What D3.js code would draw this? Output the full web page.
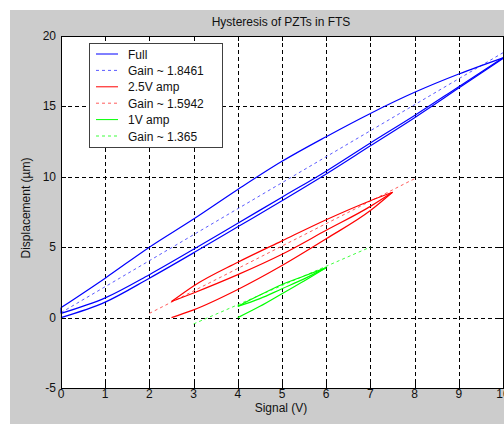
<!DOCTYPE html>
<html>
<head>
<meta charset="utf-8">
<script src="https://cdn.jsdelivr.net/npm/d3@7"></script>
<style>
  html, body { margin: 0; padding: 0; background: #ffffff; }
  svg { display: block; }
  text { font-family: "Liberation Sans", Arial, Helvetica, sans-serif; }
</style>
</head>
<body>
<svg id="chart" width="504" height="424"></svg>
<script>
// ---- data -------------------------------------------------------------
const xTicks = [0, 1, 2, 3, 4, 5, 6, 7, 8, 9, 10];
const yTicks = [-5, 0, 5, 10, 15, 20];

// Full-range drive (0..10 V)
const fullSignal = [0, 1, 2, 3, 4, 5, 6, 7, 8, 9, 10];
const fullRise1  = [0.0, 1.1, 2.8, 4.6, 6.45, 8.3, 10.2, 12.2, 14.2, 16.3, 18.4];
const fullFall   = [0.7, 2.8, 5.0, 7.0, 9.1, 11.1, 12.85, 14.5, 16.0, 17.3, 18.45];
const fullRise2  = [0.3, 1.4, 3.05, 4.85, 6.7, 8.55, 10.4, 12.4, 14.35, 16.4, 18.45];

// 2.5 V amplitude drive (2.5..7.5 V)
const midSignal  = [2.5, 3, 4, 5, 6, 7, 7.5];
const midRise1   = [0.0, 0.55, 2.0, 3.7, 5.6, 7.6, 8.9];
const midFall    = [1.14, 2.25, 3.93, 5.45, 6.95, 8.3, 8.9];
const midRise2   = [1.14, 1.75, 3.05, 4.5, 6.2, 7.9, 8.9];

// 1 V amplitude drive (4..6 V)
const lowSignal  = [4, 4.5, 5, 5.5, 6];
const lowRise1   = [0.0, 0.8, 1.7, 2.6, 3.55];
const lowFall    = [0.8, 1.6, 2.35, 2.95, 3.55];
const lowRise2   = [0.8, 1.35, 2.05, 2.75, 3.55];

// Linear fits: displacement = gain * signal + offset
const gains      = [1.8461, 1.5942, 1.365];
const fitOffsets = [0.35, -2.888, -4.545];
const fitStart   = [0, 2, 3];
const fitEnd     = [10, 8, 7];

const legendLabels = ["Full", "Gain ~ 1.8461", "2.5V amp", "Gain ~ 1.5942", "1V amp", "Gain ~ 1.365"];

// ---- layout -----------------------------------------------------------
const svg = d3.select("#chart");
const W = 504, H = 424;
const axLeft = 61, axRight = 503, axTop = 36, axBottom = 388;

const x = d3.scaleLinear().domain([0, 10]).range([axLeft, axRight]);
const y = d3.scaleLinear().domain([-5, 20]).range([axBottom, axTop]);

const solidColors = ["#0000ff", "#ff0000", "#00ff00"];
const fitColors   = ["#5b5bff", "#ff5c5c", "#3cff3c"];

// figure background
svg.append("rect").attr("x", 0).attr("y", 0).attr("width", W).attr("height", H).attr("fill", "#ffffff");
svg.append("rect").attr("x", 10).attr("y", 10).attr("width", W - 10).attr("height", H - 10).attr("fill", "#cccccc");

// axes background
svg.append("rect")
  .attr("x", axLeft).attr("y", axTop)
  .attr("width", axRight - axLeft).attr("height", axBottom - axTop)
  .attr("fill", "#ffffff");

// grid
const grid = svg.append("g").attr("stroke", "#000").attr("stroke-width", 1)
  .attr("stroke-dasharray", "4,3").attr("shape-rendering", "crispEdges");
xTicks.slice(1, -1).forEach(t => {
  grid.append("line").attr("x1", Math.round(x(t)) + 0.5).attr("x2", Math.round(x(t)) + 0.5)
    .attr("y1", axTop).attr("y2", axBottom);
});
yTicks.slice(1, -1).forEach(t => {
  grid.append("line").attr("y1", Math.round(y(t)) + 0.5).attr("y2", Math.round(y(t)) + 0.5)
    .attr("x1", axLeft).attr("x2", axRight);
});

// data lines
const plot = svg.append("g");
const line = d3.line().x(d => x(d[0])).y(d => y(d[1])).curve(d3.curveMonotoneX);
const zipPts = (xs, ys) => xs.map((v, i) => [v, ys[i]]);

const branches = [
  [fullSignal, [fullRise1, fullFall, fullRise2]],
  [midSignal,  [midRise1, midFall, midRise2]],
  [lowSignal,  [lowRise1, lowFall, lowRise2]]
];

branches.forEach(([sx, sets], k) => {
  // fitted line with the stated gain
  const fx = [fitStart[k], fitEnd[k]];
  plot.append("path")
    .attr("d", d3.line().x(d => x(d)).y(d => y(gains[k] * d + fitOffsets[k]))(fx))
    .attr("fill", "none").attr("stroke", fitColors[k]).attr("stroke-width", 1)
    .attr("stroke-dasharray", "3,3");
  // measured hysteresis branches
  sets.forEach(ys => {
    plot.append("path")
      .attr("d", line(zipPts(sx, ys)))
      .attr("fill", "none").attr("stroke", solidColors[k]).attr("stroke-width", 1.2);
  });
  // short closing stroke at the turn-around of the loop
  plot.append("path")
    .attr("d", d3.line().x(d => x(d[0])).y(d => y(d[1]))([[sx[0], sets[1][0]], [sx[0], sets[2][0]]]))
    .attr("fill", "none").attr("stroke", solidColors[k]).attr("stroke-width", 1.2);
});

// axes box and ticks
const axisG = svg.append("g").attr("stroke", "#000").attr("stroke-width", 1).attr("shape-rendering", "crispEdges");
axisG.append("rect").attr("x", axLeft + 0.5).attr("y", axTop + 0.5)
  .attr("width", axRight - axLeft).attr("height", axBottom - axTop).attr("fill", "none");
const tl = 5;
xTicks.forEach(t => {
  const px = Math.round(x(t)) + 0.5;
  axisG.append("line").attr("x1", px).attr("x2", px).attr("y1", axBottom).attr("y2", axBottom - tl);
  axisG.append("line").attr("x1", px).attr("x2", px).attr("y1", axTop).attr("y2", axTop + tl);
});
yTicks.forEach(t => {
  const py = Math.round(y(t)) + 0.5;
  axisG.append("line").attr("y1", py).attr("y2", py).attr("x1", axLeft).attr("x2", axLeft + tl);
  axisG.append("line").attr("y1", py).attr("y2", py).attr("x1", axRight - tl).attr("x2", axRight);
});

// tick labels
const labels = svg.append("g").attr("fill", "#111").attr("font-size", 12);
xTicks.forEach(t => {
  labels.append("text").attr("x", x(t)).attr("y", axBottom + 10)
    .attr("text-anchor", "middle").text(t);
});
yTicks.forEach(t => {
  labels.append("text").attr("x", axLeft - 5).attr("y", y(t) + 4)
    .attr("text-anchor", "end").text(t);
});

// title and axis titles
svg.append("text").attr("x", (axLeft + axRight) / 2 - 1).attr("y", 26)
  .attr("text-anchor", "middle").attr("font-size", 12).attr("fill", "#111")
  .text("Hysteresis of PZTs in FTS");
svg.append("text").attr("x", (axLeft + axRight) / 2 - 1).attr("y", 412)
  .attr("text-anchor", "middle").attr("font-size", 12).attr("fill", "#111")
  .text("Signal (V)");
svg.append("text")
  .attr("transform", `translate(30, 208) rotate(-90)`)
  .attr("text-anchor", "middle").attr("font-size", 12).attr("fill", "#111")
  .text("Displacement (\u00b5m)");

// legend
const lg = svg.append("g");
lg.append("rect").attr("x", 89.5).attr("y", 43.5).attr("width", 133).attr("height", 104)
  .attr("fill", "#ffffff").attr("stroke", "#404040").attr("stroke-width", 1)
  .attr("shape-rendering", "crispEdges");
legendLabels.forEach((lab, i) => {
  const k = Math.floor(i / 2);
  const dashed = i % 2 === 1;
  const ry = 54 + i * 16.4;
  lg.append("line").attr("x1", 96).attr("x2", 118).attr("y1", ry).attr("y2", ry)
    .attr("stroke", dashed ? fitColors[k] : solidColors[k]).attr("stroke-width", 1)
    .attr("stroke-dasharray", dashed ? "3,3" : null);
  lg.append("text").attr("x", 128).attr("y", ry + 4.5)
    .attr("font-size", 12).attr("fill", "#111").text(lab);
});
</script>
</body>
</html>
